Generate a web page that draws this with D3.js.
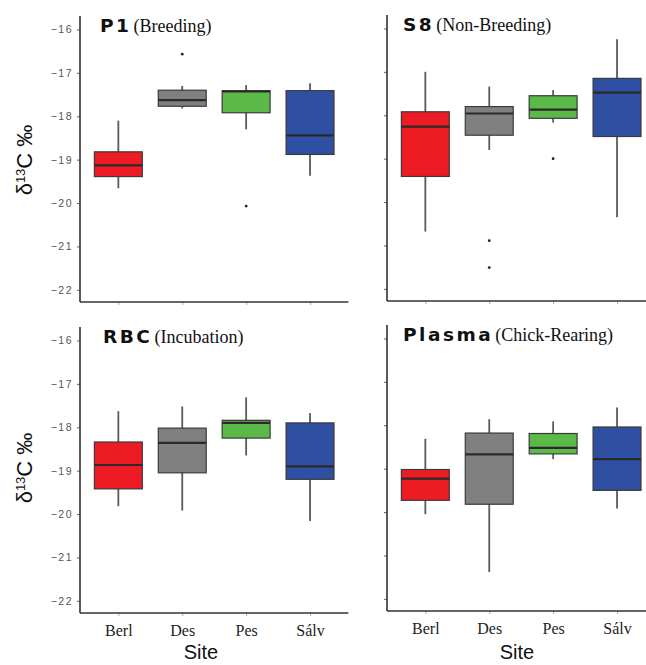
<!DOCTYPE html>
<html lang="en">
<head>
<meta charset="utf-8">
<script src="https://d3js.org/d3.v7.min.js"></script>
<style>
  body { margin: 0; background: #fff; }
  svg { display: block; }
</style>
</head>
<body>
<script>
// sites along the x axis
var sites = ["Berl", "Des", "Pes", "Sálv"];
var siteColours = ["#ed1c24", "#808080", "#5bb947", "#2f4fa2"];

// panel titles
var tissues = ["P1", "S8", "RBC", "Plasma"];
var stages = ["(Breeding)", "(Non-Breeding)", "(Incubation)", "(Chick-Rearing)"];

// box stats per site: [lower whisker, q1, median, q3, upper whisker]
var p1Stats = [
  [-19.66, -19.39, -19.13, -18.82, -18.10],
  [-17.82, -17.77, -17.63, -17.40, -17.30],
  [-18.30, -17.92, -17.43, -17.41, -17.28],
  [-19.37, -18.88, -18.44, -17.41, -17.24]
];
var p1Outliers = [[], [-16.57], [-20.07], []];

var s8Stats = [
  [-20.68, -19.41, -18.26, -17.92, -17.00],
  [-18.80, -18.46, -17.96, -17.80, -17.34],
  [-18.17, -18.07, -17.87, -17.55, -17.42],
  [-20.35, -18.49, -17.48, -17.15, -16.25]
];
var s8Outliers = [[], [-20.89, -21.51], [-19.00], []];

var rbcStats = [
  [-19.82, -19.42, -18.87, -18.34, -17.63],
  [-19.92, -19.05, -18.36, -18.02, -17.52],
  [-18.65, -18.25, -17.90, -17.84, -17.31],
  [-20.16, -19.20, -18.90, -17.90, -17.67]
];
var rbcOutliers = [[], [], [], []];

var plasmaStats = [
  [-20.05, -19.73, -19.23, -19.02, -18.31],
  [-21.38, -19.82, -18.67, -18.18, -17.86],
  [-18.78, -18.66, -18.52, -18.19, -17.91],
  [-19.92, -19.50, -18.78, -18.04, -17.59]
];
var plasmaOutliers = [[], [], [], []];

var yTicks = [-16, -17, -18, -19, -20, -21, -22];
var yDomain = [-22.28, -15.69];

var width = 646, height = 665;

var svg = d3.select("body").append("svg")
  .attr("width", width)
  .attr("height", height);

// panel frames: left edge, top, bottom, title offset
var panels = [
  { x0: 80,  top: 16,  bottom: 302, tx: 20, stats: p1Stats,     outliers: p1Outliers,     labels: true,  xlabels: false },
  { x0: 387, top: 15,  bottom: 301, tx: 16, stats: s8Stats,     outliers: s8Outliers,     labels: false, xlabels: false },
  { x0: 80,  top: 327, bottom: 613, tx: 23, stats: rbcStats,    outliers: rbcOutliers,    labels: true,  xlabels: true },
  { x0: 387, top: 325, bottom: 611, tx: 16, stats: plasmaStats, outliers: plasmaOutliers, labels: false, xlabels: true }
];

var unit = 63.9; // one discrete step in px

panels.forEach(function(p, i) {
  var g = svg.append("g");

  var x = d3.scalePoint()
    .domain(sites)
    .range([p.x0 + 0.6 * unit, p.x0 + 3.6 * unit]);
  var y = d3.scaleLinear()
    .domain(yDomain)
    .range([p.bottom, p.top]);
  var bw = 0.75 * unit;

  // y axis
  var yAxis = d3.axisLeft(y)
    .tickValues(yTicks)
    .tickSize(3)
    .tickPadding(4)
    .tickFormat(p.labels ? function(d) { return "\u2212" + Math.abs(d); } : "");
  var ya = g.append("g")
    .attr("transform", "translate(" + p.x0 + ",0)")
    .call(yAxis);
  ya.select(".domain").remove();
  ya.selectAll(".tick line").attr("stroke", "#666").attr("stroke-width", 1);
  ya.selectAll(".tick text")
    .attr("fill", "#555")
    .style("font-family", "'Liberation Sans', Arial, sans-serif")
    .style("font-size", "10.5px")
    .style("letter-spacing", "1.5px");

  // x axis
  var xAxis = d3.axisBottom(x)
    .tickSize(3)
    .tickPadding(9)
    .tickFormat(p.xlabels ? function(d) { return d; } : "");
  var xa = g.append("g")
    .attr("transform", "translate(0," + p.bottom + ")")
    .call(xAxis);
  xa.select(".domain").remove();
  xa.selectAll(".tick line").attr("stroke", "#aaa").attr("stroke-width", 1);
  xa.selectAll(".tick text")
    .attr("fill", "#222")
    .style("font-family", "'Liberation Serif', 'Times New Roman', serif")
    .style("font-size", "16px");

  // axis lines
  g.append("line")
    .attr("x1", p.x0).attr("x2", p.x0)
    .attr("y1", p.top).attr("y2", p.bottom)
    .attr("stroke", "#333").attr("stroke-width", 1.6);
  g.append("line")
    .attr("x1", p.x0).attr("x2", p.x0 + 4.2 * unit)
    .attr("y1", p.bottom).attr("y2", p.bottom)
    .attr("stroke", "#333").attr("stroke-width", 1.6);

  // whiskers
  g.selectAll(".whisker")
    .data(p.stats)
    .enter().append("line")
    .attr("x1", function(d, j) { return x(sites[j]); })
    .attr("x2", function(d, j) { return x(sites[j]); })
    .attr("y1", function(d) { return y(d[0]); })
    .attr("y2", function(d) { return y(d[4]); })
    .attr("stroke", "#5a5a5a")
    .attr("stroke-width", 1.8);

  // boxes
  g.selectAll(".box")
    .data(p.stats)
    .enter().append("rect")
    .attr("x", function(d, j) { return x(sites[j]) - bw / 2; })
    .attr("width", bw)
    .attr("y", function(d) { return y(d[3]); })
    .attr("height", function(d) { return y(d[1]) - y(d[3]); })
    .attr("fill", function(d, j) { return siteColours[j]; })
    .attr("stroke", "#3a3a3a")
    .attr("stroke-width", 1.2);

  // medians
  g.selectAll(".median")
    .data(p.stats)
    .enter().append("line")
    .attr("x1", function(d, j) { return x(sites[j]) - bw / 2; })
    .attr("x2", function(d, j) { return x(sites[j]) + bw / 2; })
    .attr("y1", function(d) { return y(d[2]); })
    .attr("y2", function(d) { return y(d[2]); })
    .attr("stroke", "#2a2a2a")
    .attr("stroke-width", 2.2);

  // outliers
  p.outliers.forEach(function(vals, j) {
    g.selectAll(".out" + j)
      .data(vals)
      .enter().append("circle")
      .attr("cx", x(sites[j]))
      .attr("cy", function(d) { return y(d); })
      .attr("r", 1.4)
      .attr("fill", "#222");
  });

  // title
  var t = g.append("text")
    .attr("x", p.x0 + p.tx)
    .attr("y", p.top + 16);
  t.append("tspan")
    .style("font-family", "'DejaVu Sans', sans-serif")
    .style("font-weight", "bold")
    .style("font-size", "18.5px")
    .style("letter-spacing", "2.5px")
    .attr("fill", "#111")
    .text(tissues[i]);
  t.append("tspan")
    .attr("dx", 2)
    .style("font-family", "'Liberation Serif', 'Times New Roman', serif")
    .style("font-size", "18px")
    .attr("fill", "#111")
    .text(stages[i]);
});

// y axis titles
[160, 468].forEach(function(cy) {
  var lab = svg.append("text")
    .attr("transform", "translate(32," + cy + ") rotate(-90)")
    .attr("text-anchor", "middle")
    .style("font-family", "'Liberation Sans', Arial, sans-serif")
    .style("font-size", "22px")
    .attr("fill", "#111");
  lab.append("tspan").text("\u03b4");
  lab.append("tspan").attr("baseline-shift", "super").style("font-size", "13px").text("13");
  lab.append("tspan").text("C \u2030");
});

// x axis titles
[201, 517].forEach(function(cx) {
  svg.append("text")
    .attr("x", cx)
    .attr("y", 659)
    .attr("text-anchor", "middle")
    .style("font-family", "'Liberation Sans', Arial, sans-serif")
    .style("font-size", "20px")
    .attr("fill", "#111")
    .text("Site");
});
</script>
</body>
</html>
